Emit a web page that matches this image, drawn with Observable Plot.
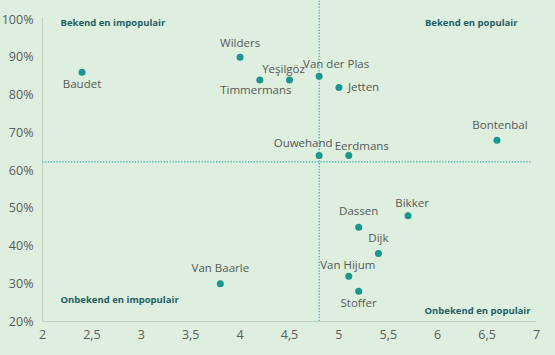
<!DOCTYPE html>
<html>
<head>
<meta charset="utf-8">
<script src="https://cdn.jsdelivr.net/npm/d3@7"></script>
<script src="https://cdn.jsdelivr.net/npm/@observablehq/plot@0.6"></script>
<style>
  html, body { margin: 0; padding: 0; background: #DEEEDF; }
  #chart { width: 555px; height: 355px; }
</style>
</head>
<body>
<div id="chart"></div>
<script>
// Data
const names = ["Baudet", "Wilders", "Timmermans", "Yeşilgöz", "Van der Plas", "Jetten", "Bontenbal", "Ouwehand", "Eerdmans", "Bikker", "Dassen", "Dijk", "Van Hijum", "Stoffer", "Van Baarle"];
const popularity = [2.4, 4.0, 4.2, 4.5, 4.8, 5.0, 6.6, 4.8, 5.1, 5.7, 5.2, 5.4, 5.1, 5.2, 3.8];
const familiarity = [86, 90, 84, 84, 85, 82, 68, 64, 64, 48, 45, 38, 32, 28, 30];
const medianPopularity = 4.8;
const medianFamiliarity = 62.3;
const xTicks = [2, 2.5, 3, 3.5, 4, 4.5, 5, 5.5, 6, 6.5, 7];
const yTicks = [20, 30, 40, 50, 60, 70, 80, 90, 100];
const quadrants = ["Bekend en impopulair", "Bekend en populair", "Onbekend en impopulair", "Onbekend en populair"];

const rows = names.map((n, i) => ({name: n, x: popularity[i], y: familiarity[i]}));

// label placement (style: offsets in px)
const place = {
  "Baudet": [0, 12, "middle"],
  "Wilders": [0, -14, "middle"],
  "Timmermans": [-4, 10, "middle"],
  "Yeşilgöz": [-6, -11, "middle"],
  "Van der Plas": [17, -11.5, "middle"],
  "Jetten": [9, -0.5, "start"],
  "Bontenbal": [3, -14.5, "middle"],
  "Ouwehand": [-16, -12.5, "middle"],
  "Eerdmans": [13, -9.5, "middle"],
  "Bikker": [4, -12.5, "middle"],
  "Dassen": [0, -15.5, "middle"],
  "Dijk": [0, -15.5, "middle"],
  "Van Hijum": [-1, -10.5, "middle"],
  "Stoffer": [0, 12.5, "middle"],
  "Van Baarle": [0, -15.5, "middle"]
};

const labelMarks = rows.map(r => {
  const [dx, dy, anchor] = place[r.name];
  return Plot.text([r], {x: "x", y: "y", text: "name", dx, dy, textAnchor: anchor,
    fill: "#555a55", fontSize: 11.5});
});

const qStyle = {fill: "#1d5f66", fontSize: 9.5, fontWeight: "bold"};
const quadMarks = [
  Plot.text([quadrants[0]], {frameAnchor: "top-left", dx: 18, dy: 3, textAnchor: "start", lineAnchor: "middle", ...qStyle}),
  Plot.text([quadrants[1]], {frameAnchor: "top-right", dx: -19, dy: 3, textAnchor: "end", lineAnchor: "middle", ...qStyle}),
  Plot.text([quadrants[2]], {frameAnchor: "bottom-left", dx: 18, dy: -22, textAnchor: "start", lineAnchor: "middle", ...qStyle}),
  Plot.text([quadrants[3]], {frameAnchor: "bottom-right", dx: -6, dy: -11, textAnchor: "end", lineAnchor: "middle", ...qStyle})
];

const chart = Plot.plot({
  width: 555,
  height: 355,
  marginLeft: 42,
  marginRight: 19,
  marginTop: 19,
  marginBottom: 34,
  style: {background: "#DEEEDF", fontFamily: "'Open Sans', sans-serif", overflow: "visible"},
  x: {domain: [2, 7], label: null},
  y: {domain: [20, 100], label: null},
  marks: [
    Plot.axisX({ticks: xTicks, tickFormat: d => String(d).replace(".", ","), tickSize: 0, tickPadding: 9, fontSize: 12.5, color: "#5a5f5a", label: null}),
    Plot.axisY({ticks: yTicks, tickFormat: d => d + "%", tickSize: 0, tickPadding: 9, fontSize: 12.5, color: "#5a5f5a", label: null}),
    Plot.ruleX([2], {y1: 20, y2: 100.5, stroke: "#c3cec4", strokeWidth: 1}),
    Plot.ruleY([20], {x1: 2, x2: 7, stroke: "#c3cec4", strokeWidth: 1}),
    Plot.ruleX([medianPopularity], {y1: 20, y2: 105, stroke: "#3db5b3", strokeWidth: 1.3, strokeDasharray: "1.3,1.6", clip: false}),
    Plot.ruleY([medianFamiliarity], {x1: 2, x2: 6.96, stroke: "#3db5b3", strokeWidth: 1.3, strokeDasharray: "1.3,1.6"}),
    Plot.dot(rows, {x: "x", y: "y", r: 3.5, fill: "#1a9690", stroke: "none"}),
    ...labelMarks,
    ...quadMarks
  ]
});
document.getElementById("chart").appendChild(chart);
</script>
</body>
</html>
